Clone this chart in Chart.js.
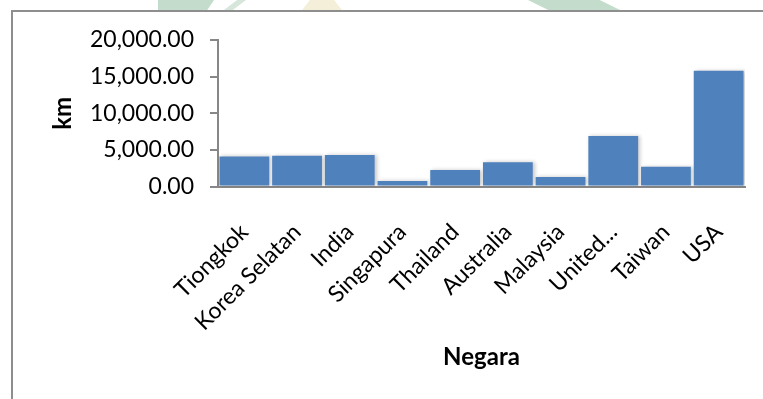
<!DOCTYPE html>
<html lang="id">
<head>
<meta charset="utf-8">
<title>Jarak per Negara</title>
<script src="https://cdn.jsdelivr.net/npm/chart.js@4/dist/chart.umd.min.js"></script>
<style>
  html, body { margin: 0; padding: 0; background: #fff; }
  #wrap { position: relative; width: 763px; height: 399px; overflow: hidden; }
  #frame {
    position: absolute; left: 11px; top: 10px; width: 900px; height: 500px;
    border-left: 2px solid #8e8e8e; border-top: 2px solid #8e8e8e;
    background: #fff;
  }
  .mark { position: absolute; top: 0; height: 10px; }
  #chart { position: absolute; left: 0; top: 0; }
</style>
</head>
<body>
<div id="wrap">
  <div class="mark" style="left:158px;width:56px;background:#c3dccb;clip-path:polygon(0 0,100% 0,88% 100%,0 100%);"></div>
  <div class="mark" style="left:224px;width:22px;background:#d6e6da;clip-path:polygon(60% 0,100% 0,40% 100%,0 100%);"></div>
  <div class="mark" style="left:302px;width:40px;background:#f3efd8;clip-path:polygon(20% 0,80% 0,100% 100%,0 100%);"></div>
  <div class="mark" style="left:528px;width:92px;background:#c3dccb;clip-path:polygon(0 0,78% 0,100% 100%,22% 100%);"></div>
  <div id="frame"></div>
  <canvas id="chart" width="763" height="399"></canvas>
</div>
<script>
const countries = ["Tiongkok", "Korea Selatan", "India", "Singapura", "Thailand",
  "Australia", "Malaysia", "United...", "Taiwan", "USA"];
const distanceKm = [4100, 4200, 4300, 750, 2250, 3300, 1300, 6900, 2700, 15800];
const yTicks = [0, 5000, 10000, 15000, 20000];

const labelFont = { family: "Lato", size: 23 };
const titleFont = { family: "Lato", size: 24, weight: "bold" };
const axisGray = "#878787";

const numberFormat = new Intl.NumberFormat("en-US", {
  minimumFractionDigits: 2,
  maximumFractionDigits: 2,
});

// soft drop shadow behind the bars
const barShadow = {
  id: "barShadow",
  beforeDatasetsDraw(chart) {
    const ctx = chart.ctx;
    ctx.save();
    ctx.shadowColor = "rgba(0, 0, 0, 0.22)";
    ctx.shadowBlur = 4;
    ctx.shadowOffsetX = 2;
    ctx.shadowOffsetY = 0;
  },
  afterDatasetsDraw(chart) {
    chart.ctx.restore();
  },
};

new Chart(document.getElementById("chart"), {
  type: "bar",
  data: {
    labels: countries,
    datasets: [
      {
        label: "km",
        data: distanceKm,
        backgroundColor: "#4f81bd",
        barPercentage: 0.945,
        categoryPercentage: 1,
      },
    ],
  },
  options: {
    responsive: false,
    animation: false,
    layout: { padding: { left: 0, top: 40, right: 18, bottom: 20 } },
    plugins: {
      legend: { display: false },
      tooltip: { enabled: false },
    },
    scales: {
      x: {
        grid: { display: true, drawOnChartArea: false, drawTicks: false },
        border: { display: true, color: axisGray, width: 2 },
        ticks: {
          color: "#000",
          font: labelFont,
          minRotation: 45,
          maxRotation: 45,
          autoSkip: false,
          padding: 32,
        },
        title: {
          display: true,
          text: "Negara",
          color: "#000",
          font: titleFont,
          padding: { top: 0, bottom: 7 },
        },
        afterFit(scale) {
          scale.height = 192.5;
          // rotated labels hang to the left only; keep the plot edge fixed
          scale.paddingLeft = 0;
          scale.paddingRight = 0;
        },
      },
      y: {
        min: 0,
        max: 20000,
        afterBuildTicks(scale) {
          scale.ticks = yTicks.map((value) => ({ value }));
        },
        grid: { drawOnChartArea: false, drawTicks: true, tickLength: 8, color: axisGray, lineWidth: 2 },
        border: { display: true, color: axisGray, width: 2 },
        ticks: {
          color: "#000",
          font: labelFont,
          padding: 16,
          callback: (value) => numberFormat.format(value),
        },
        title: {
          display: true,
          text: "km",
          color: "#000",
          font: titleFont,
          padding: { top: 49, bottom: 0 },
        },
        afterFit(scale) {
          scale.width = 218;
        },
      },
    },
  },
  plugins: [barShadow],
});
</script>
</body>
</html>
